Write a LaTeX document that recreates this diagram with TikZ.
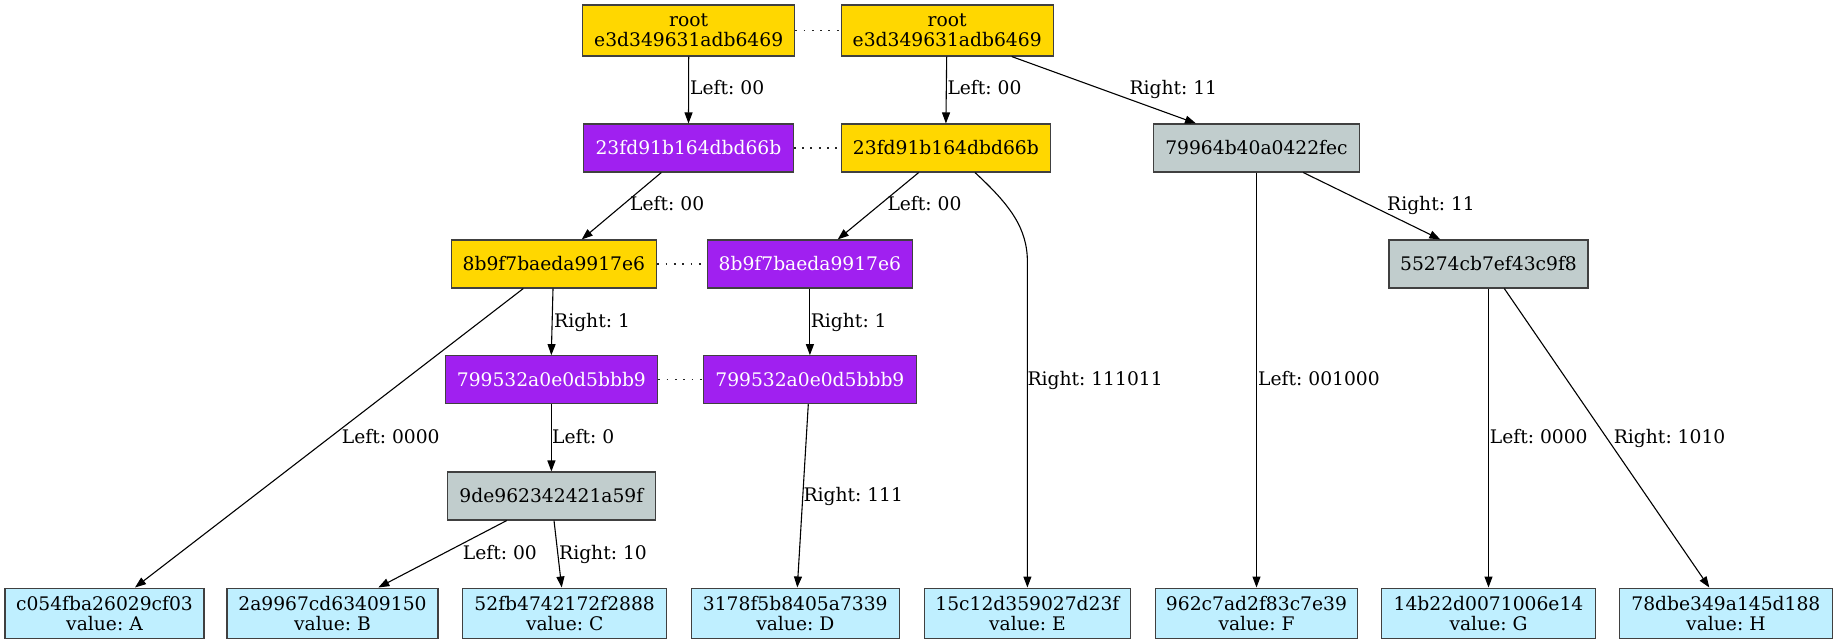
\documentclass[tikz,border=0pt]{standalone}
\usepackage{fontspec}
\setmainfont{DejaVu Serif}
\usetikzlibrary{arrows.meta}
\definecolor{gold}{HTML}{FFD700}
\definecolor{purplefill}{HTML}{A020F0}
\definecolor{azurethree}{HTML}{C1CDCD}
\definecolor{lightblueone}{HTML}{BFEFFF}
\frenchspacing
\begin{document}
\begin{tikzpicture}[x=1pt,y=-1pt,
  every node/.style={font=\fontsize{18.7pt}{19.7pt}\selectfont},
  box/.style={draw=black!75, line width=1.1pt, inner sep=0pt, align=center, minimum height=48pt},
  oldbox/.style={box, fill=gold},
  newbox/.style={box, fill=purplefill, text=white},
  innerbox/.style={box, fill=azurethree},
  leafbox/.style={box, fill=lightblueone, minimum height=50.3pt},
  edge/.style={draw, line width=1.1pt, -{Triangle[length=11pt,width=8pt]}},
  lbl/.style={anchor=base west, inner sep=0pt},
  link/.style={line width=1.4pt, dash pattern=on 1.8pt off 6.5pt, draw=black!85}
]
\useasboundingbox (0,0) rectangle (1837,644);

% old tree (left) and new tree (right)
\node[oldbox, minimum width=212pt, minimum height=51pt] (rootL) at (688.7,30.5) {root\\e3d349631adb6469};
\node[oldbox, minimum width=212.3pt, minimum height=51pt] (rootR) at (947.2,30.5) {root\\e3d349631adb6469};
\node[newbox, minimum width=209.6pt] (hL) at (688.5,148) {23fd91b164dbd66b};
\node[oldbox, minimum width=209.7pt] (hR) at (945.9,148) {23fd91b164dbd66b};
\node[innerbox, minimum width=205.6pt] (n799) at (1256.5,148) {79964b40a0422fec};
\node[oldbox, minimum width=205.7pt] (bL) at (553.9,264) {8b9f7baeda9917e6};
\node[newbox, minimum width=205.7pt] (bR) at (809.9,264) {8b9f7baeda9917e6};
\node[innerbox, minimum width=199pt] (n552) at (1488.5,264) {55274cb7ef43c9f8};
\node[newbox, minimum width=212.7pt] (sL) at (551.4,379.7) {799532a0e0d5bbb9};
\node[newbox, minimum width=212.3pt] (sR) at (809.9,379.7) {799532a0e0d5bbb9};
\node[innerbox, minimum width=207.3pt] (n9de) at (551.4,496) {9de962342421a59f};

% leaves
\node[leafbox, minimum width=199pt] (lA) at (104.5,613.2) {c054fba26029cf03\\value: A};
\node[leafbox, minimum width=211pt] (lB) at (332.5,613.2) {2a9967cd63409150\\value: B};
\node[leafbox, minimum width=204pt] (lC) at (564.7,613.2) {52fb4742172f2888\\value: C};
\node[leafbox, minimum width=208pt] (lD) at (795.3,613.2) {3178f5b8405a7339\\value: D};
\node[leafbox, minimum width=206.7pt] (lE) at (1027.4,613.2) {15c12d359027d23f\\value: E};
\node[leafbox, minimum width=202.4pt] (lF) at (1256.5,613.2) {962c7ad2f83c7e39\\value: F};
\node[leafbox, minimum width=213.6pt] (lG) at (1488.5,613.2) {14b22d0071006e14\\value: G};
\node[leafbox, minimum width=212.3pt] (lH) at (1725.9,613.2) {78dbe349a145d188\\value: H};

% links between matching nodes of the two trees
\draw[link] (rootL.east) -- (rootR.west);
\draw[link] (hL.east) -- (hR.west);
\draw[link] (bL.east) -- (bR.west);
\draw[link] (sL.east) -- (sR.west);

% edges
\draw[edge] (rootL.south) -- (hL.north);
\draw[edge] ([xshift=-0.5pt]rootR.south) -- (hR.north);
\draw[edge] ([xshift=64.5pt]rootR.south) -- ([xshift=-60.5pt]n799.north);
\draw[edge] ([xshift=-27.2pt]hL.south) -- ([xshift=27.8pt]bL.north);
\draw[edge] ([xshift=-27.2pt]hR.south) -- ([xshift=27.8pt]bR.north);
\coordinate (ebend) at (1027.4,262);
\draw[edge] ([xshift=29.1pt]hR.south) .. controls (1010,205) and (1027.4,228) .. (ebend) -- (lE.north);
\draw[edge] (n799.south) -- (lF.north);
\draw[edge] ([xshift=46.8pt]n799.south) -- ([xshift=-48.2pt]n552.north);
\draw[edge] ([xshift=-0.9pt]bL.south) -- ([xshift=-0.1pt]sL.north);
\draw[edge] (bR.south) -- (sR.north);
\draw[edge] ([xshift=-30.6pt]bL.south) -- ([xshift=30.5pt]lA.north);
\draw[edge] (sL.south) -- (n9de.north);
\draw[edge] ([xshift=-1.6pt]sR.south) -- ([xshift=2pt]lD.north);
\draw[edge] ([xshift=-44.7pt]n9de.south) -- ([xshift=45.8pt]lB.north);
\draw[edge] ([xshift=2.6pt]n9de.south) -- ([xshift=-3pt]lC.north);
\draw[edge] (n552.south) -- (lG.north);
\draw[edge] ([xshift=15.8pt]n552.south) -- ([xshift=-16.6pt]lH.north);

% edge labels
\node[lbl] (t1) at (690,95) {Left: 00};
\node[lbl] (t2) at (947.3,95) {Left: 00};
\node[lbl] (t3) at (1129.3,95) {Right: 11};
\node[lbl] (t4) at (630,211) {Left: 00};
\node[lbl] (t5) at (887.3,211) {Left: 00};
\node[lbl] (t6) at (1387,211) {Right: 11};
\node[lbl] (t7) at (554,327) {Right: 1};
\node[lbl] (t8) at (810.7,327) {Right: 1};
\node[lbl] (t9) at (1027.3,385.5) {Right: 111011};
\node[lbl] (t10) at (1258,385.5) {Left: 001000};
\node[lbl] (t11) at (341.7,443) {Left: 0000};
\node[lbl] (t12) at (552,443) {Left: 0};
\node[lbl] (t13) at (1489.7,443) {Left: 0000};
\node[lbl] (t14) at (1613.7,443) {Right: 1010};
\node[lbl] (t15) at (803.3,501) {Right: 111};
\node[lbl] (t16) at (462.7,559) {Left: 00};
\node[lbl] (t17) at (559,559) {Right: 10};
\end{tikzpicture}
\end{document}
